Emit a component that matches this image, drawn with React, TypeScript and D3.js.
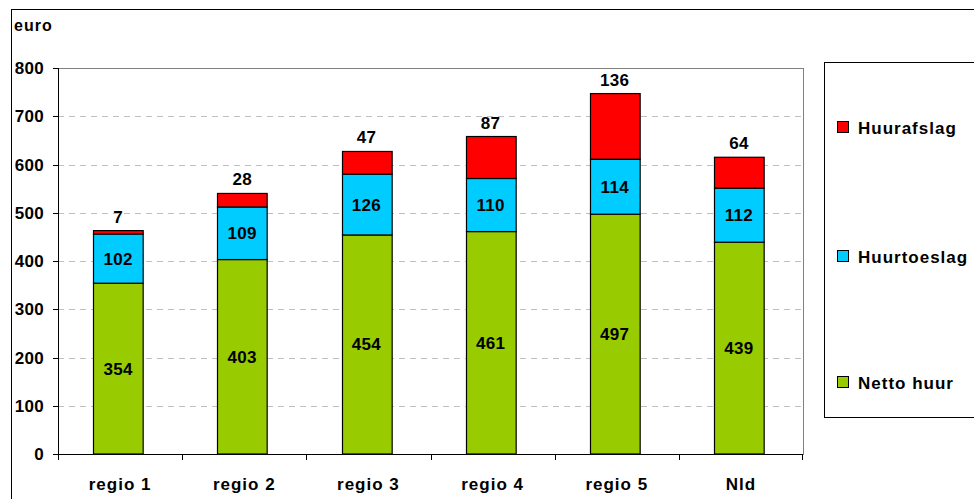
import React from "react";
import * as d3 from "d3";

const categories = ["regio 1", "regio 2", "regio 3", "regio 4", "regio 5", "Nld"];
const nettoHuur = [354, 403, 454, 461, 497, 439];
const huurtoeslag = [102, 109, 126, 110, 114, 112];
const huurafslag = [7, 28, 47, 87, 136, 64];
const yTicks = [0, 100, 200, 300, 400, 500, 600, 700, 800];
const seriesNames = ["Netto huur", "Huurtoeslag", "Huurafslag"];
const colors = ["#99CC00", "#00CCFF", "#FF0000"];

export default function App() {
  const W = 974, H = 499;
  const left = 58, right = 803, top = 68, bottom = 454;
  const x = d3.scaleBand().domain(categories).range([left, right]).paddingInner(0.6).paddingOuter(0.3);
  const xb = d3.scaleBand().domain(categories).range([left, right]);
  const y = d3.scaleLinear().domain([0, 800]).range([bottom, top]);
  const font = "'Liberation Sans', Arial, sans-serif";

  const data = categories.map((c, i) => ({ c, v: [nettoHuur[i], huurtoeslag[i], huurafslag[i]] }));
  const stack = d3.stack<any>().keys([0, 1, 2] as any).value((d: any, k: any) => d.v[k]);
  const layers = stack(data as any);

  return (
    <svg width={W} height={H} style={{ position: "absolute", left: 0, top: 0, fontFamily: font }}>
      <rect x={0} y={0} width={W} height={H} fill="#fff" />
      <rect x={11.5} y={9.5} width={W} height={H} fill="none" stroke="#000" strokeWidth={1} />
      <text x={14} y={31} fontSize={16} fontWeight="bold" letterSpacing={1}>euro</text>
      {/* grid */}
      {yTicks.filter(t => t > 0).map(t => (
        <line key={t} x1={left} x2={right} y1={Math.round(y(t)) + 0.5} y2={Math.round(y(t)) + 0.5}
          stroke="#c0c0c0" strokeDasharray="6,5" strokeWidth={1} />
      ))}
      <rect x={left + 0.5} y={top + 0.5} width={right - left} height={bottom - top} fill="none" stroke="#808080" strokeWidth={1} />
      {/* axes */}
      <line x1={left + 0.5} x2={left + 0.5} y1={top} y2={bottom} stroke="#000" />
      <line x1={left} x2={right} y1={bottom + 0.5} y2={bottom + 0.5} stroke="#000" />
      {yTicks.map(t => (
        <g key={t}>
          <line x1={left - 5} x2={left} y1={Math.round(y(t)) + 0.5} y2={Math.round(y(t)) + 0.5} stroke="#000" />
          <text x={44} y={y(t) + 6} fontSize={17} fontWeight="bold" textAnchor="end" letterSpacing={0.3}>{t}</text>
        </g>
      ))}
      {categories.map((c, i) => (
        <line key={c} x1={Math.round(xb(c)!) + 0.5} x2={Math.round(xb(c)!) + 0.5} y1={bottom} y2={bottom + 6} stroke="#000" />
      ))}
      <line x1={right - 0.5} x2={right - 0.5} y1={bottom} y2={bottom + 6} stroke="#000" />
      {categories.map(c => (
        <text key={c} x={x(c)! + x.bandwidth() / 2} y={490} fontSize={17} fontWeight="bold" textAnchor="middle" letterSpacing={1}>{c}</text>
      ))}
      {/* bars */}
      {layers.map((layer: any, li: number) => layer.map((d: any, i: number) => {
        const c = categories[i];
        const y0 = y(d[0]), y1 = y(d[1]);
        return (
          <rect key={li + "-" + i} x={Math.round(x(c)!) - 1.5} y={y1} width={x.bandwidth()} height={y0 - y1}
            fill={colors[li]} stroke="#000" strokeWidth={1.2} />
        );
      }))}
      {layers.map((layer: any, li: number) => layer.map((d: any, i: number) => {
        const c = categories[i];
        const cx = x(c)! + x.bandwidth() / 2 - 2;
        const val = d[1] - d[0];
        const ty = li === 2 ? y(d[1]) - 8 : (y(d[0]) + y(d[1])) / 2 + 6;
        return (
          <text key={"t" + li + "-" + i} x={cx} y={ty} fontSize={17} fontWeight="bold" textAnchor="middle" letterSpacing={0.3}>{val}</text>
        );
      }))}
      {/* legend */}
      <rect x={824.5} y={62.5} width={W} height={355} fill="#fff" stroke="#000" />
      {[2, 1, 0].map((si, k) => {
        const ly = [128, 257, 383][k];
        return (
          <g key={si}>
            <rect x={837.5} y={ly - 6.5} width={11} height={11} fill={colors[si]} stroke="#000" />
            <text x={858} y={ly + 6} fontSize={17} fontWeight="bold" letterSpacing={1}>{seriesNames[si]}</text>
          </g>
        );
      })}
    </svg>
  );
}
